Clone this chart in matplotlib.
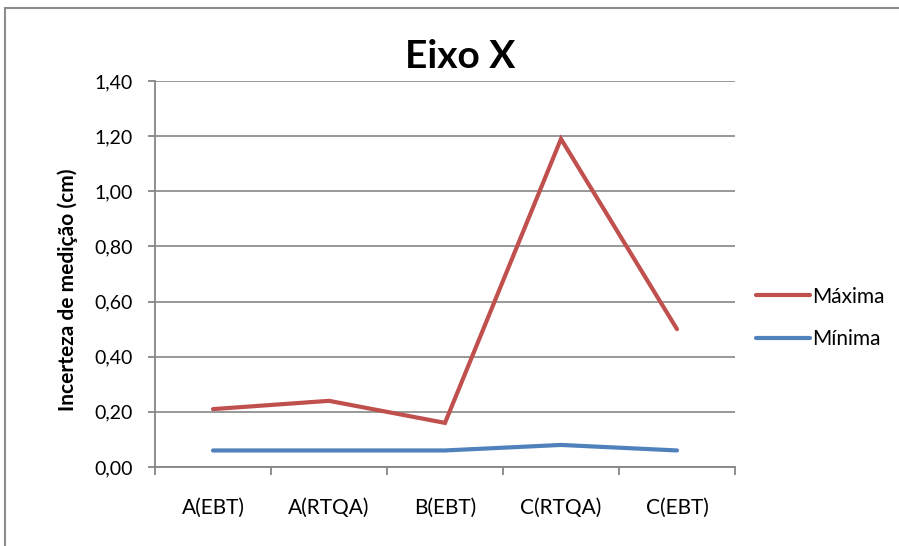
import matplotlib
matplotlib.use("Agg")
import matplotlib.pyplot as plt
from matplotlib.patches import Rectangle
import numpy as np

categories = ["A(EBT)", "A(RTQA)", "B(EBT)", "C(RTQA)", "C(EBT)"]
maxima = [0.21, 0.24, 0.16, 1.19, 0.50]
minima = [0.06, 0.06, 0.06, 0.08, 0.06]
yticks = [0.0, 0.2, 0.4, 0.6, 0.8, 1.0, 1.2, 1.4]
ytick_labels = ["0,00", "0,20", "0,40", "0,60", "0,80", "1,00", "1,20", "1,40"]

plt.rcParams['font.family'] = ['Lato', 'DejaVu Sans']

W, H = 899, 546
fig = plt.figure(figsize=(W / 100, H / 100), dpi=100)
fig.patch.set_facecolor("white")

# outer chart border (only top/left visible)
fig.add_artist(Rectangle((5 / W, -0.1), 1.1, (H - 8) / H + 0.1, transform=fig.transFigure,
                         fill=False, edgecolor="#8c8c8c", linewidth=1.5))

ax = fig.add_axes([155 / W, (H - 467) / H, (735 - 155) / W, (467 - 81) / H])
x = np.arange(len(categories))
grid_c = "#868686"
red = "#C0504D"
blue = "#4F81BD"

l1, = ax.plot(x, maxima, color=red, linewidth=3, solid_capstyle="round", solid_joinstyle="miter", label="Máxima")
l2, = ax.plot(x, minima, color=blue, linewidth=3, solid_capstyle="round", label="Mínima")

ax.set_xlim(-0.5, len(categories) - 0.5)
ax.set_ylim(0, 1.4)
ax.set_yticks(yticks)
ax.set_yticklabels(ytick_labels, fontsize=14)
ax.set_xticks(x)
ax.set_xticklabels(categories, fontsize=15)
ax.set_xticks(np.arange(-0.5, len(categories), 1.0), minor=True)
ax.tick_params(axis="x", which="major", length=0, pad=22)
ax.tick_params(axis="x", which="minor", length=6, width=1.3, color=grid_c, direction="out")
ax.tick_params(axis="y", length=5, width=1.3, color=grid_c, direction="out", pad=11)
ax.yaxis.grid(True, color=grid_c, linewidth=1.2)
ax.set_axisbelow(True)
for s in ["top", "right"]:
    ax.spines[s].set_visible(False)
for s in ["left", "bottom"]:
    ax.spines[s].set_color(grid_c)
    ax.spines[s].set_linewidth(1.3)

ax.set_ylabel("Incerteza de medição (cm)", fontsize=15, fontweight="bold")
ax.yaxis.set_label_coords(-(155 - 78) / (735 - 155), (467 - 290) / (467 - 81))
fig.text(460 / W, 1 - 57 / H, "Eixo X", fontsize=28, fontweight="bold", ha="center", va="center")

fig.legend(handles=[l1, l2], loc="center left", bbox_to_anchor=(737 / W, 1 - 318 / H),
           frameon=False, fontsize=15, handlelength=2.6, handletextpad=0.1, labelspacing=1.1)

fig.savefig("out.png", dpi=100, facecolor="white")
